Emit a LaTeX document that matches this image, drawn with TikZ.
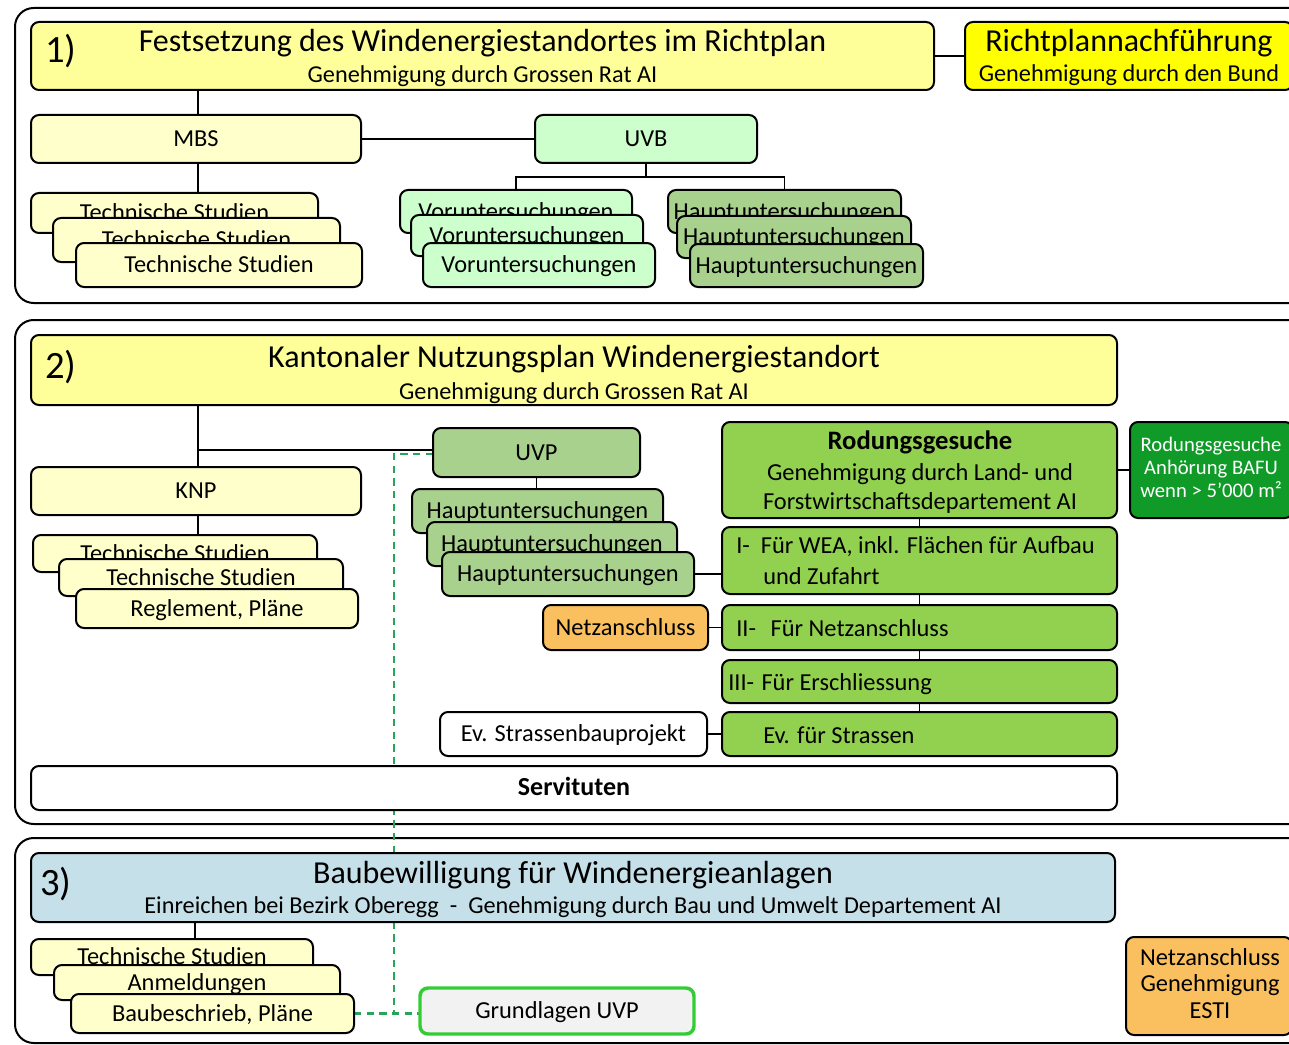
\documentclass[tikz,border=0pt]{standalone}
\usepackage{fontspec}
\setmainfont{Carlito}
\usetikzlibrary{backgrounds}
\definecolor{hdrY}{RGB}{255,255,153}
\definecolor{subY}{RGB}{255,255,204}
\definecolor{richY}{RGB}{255,255,0}
\definecolor{mint}{RGB}{204,255,204}
\definecolor{hgreen}{RGB}{169,209,142}
\definecolor{rgreen}{RGB}{146,208,80}
\definecolor{dgreen}{RGB}{16,155,40}
\definecolor{orng}{RGB}{250,192,96}
\definecolor{lblue}{RGB}{197,224,232}
\definecolor{lgrey}{RGB}{242,242,242}
\definecolor{uvpgreen}{RGB}{51,204,51}
\definecolor{dashgreen}{RGB}{40,165,90}
\newcommand\FTtl{\fontsize{24}{28}\selectfont}
\newcommand\FSub{\fontsize{18.2}{21}\selectfont}
\newcommand\FNum{\fontsize{29}{32}\selectfont}
\newcommand\FBx{\fontsize{18.3}{21}\selectfont}
\newcommand\FSm{\fontsize{15.5}{18}\selectfont}
\newcommand\Bx[7]{\node[#1, minimum width={(#5-#3)*0.75pt}, minimum height={(#6-#4)*0.75pt}] (#2) at ({(#3+#5)/2},{(#4+#6)/2}) {#7};}
\tikzset{
  box/.style={draw=black, line width=1.5pt, rounded corners=6pt, inner sep=0pt, outer sep=0pt, font=\FBx, text height=16pt, text depth=4.7pt},
  wire/.style={draw=black, line width=1.4pt},
  dashw/.style={draw=dashgreen, line width=1.8pt, dash pattern=on 5.5pt off 4pt},
  sect/.style={draw=black, line width=1.5pt, rounded corners=14pt},
  lbl/.style={inner sep=0pt, anchor=base, font=\FBx},
}
\begin{document}
\begin{tikzpicture}[x=0.75pt, y=-0.75pt]
\useasboundingbox (0,0) rectangle (1289,1045);
% ---------- section 1
\Bx{box,fill=hdrY}{T1}{31}{22}{934}{90}{}
\node[lbl, font=\FTtl] (T1t) at (482.5,52) {Festsetzung des Windenergiestandortes im Richtplan};
\node[lbl, font=\FSub] (T1s) at (482.5,83) {Genehmigung durch Grossen Rat AI};
\node[lbl, font=\FNum] (T1n) at (61,63) {1)};
\Bx{box,fill=richY}{R1}{965}{22}{1293}{90}{}
\node[lbl, font=\FTtl] (R1t) at (1129,52) {Richtplannachführung};
\node[lbl, font=\FSub] (R1s) at (1129,82) {Genehmigung durch den Bund};
\Bx{box,fill=subY}{MBS}{31}{115}{361}{163}{MBS}
\Bx{box,fill=mint}{UVB}{535}{115}{757}{163}{UVB}
\Bx{box,fill=subY}{TSa}{31}{193}{318}{233}{Technische Studien}
\Bx{box,fill=subY}{TSb}{53}{218}{340}{262}{Technische Studien}
\Bx{box,fill=subY}{TSc}{76}{243}{362}{287}{Technische Studien}
\Bx{box,fill=mint}{VUa}{400}{190}{632}{233}{Voruntersuchungen}
\Bx{box,fill=mint}{VUb}{411}{215}{643}{256}{Voruntersuchungen}
\Bx{box,fill=mint}{VUc}{423}{243}{655}{287}{Voruntersuchungen}
\Bx{box,fill=hgreen}{HUa}{668}{190}{901}{233}{Hauptuntersuchungen}
\Bx{box,fill=hgreen}{HUb}{677}{216}{911}{258}{Hauptuntersuchungen}
\Bx{box,fill=hgreen}{HUc}{690}{244}{923}{287}{Hauptuntersuchungen}
% ---------- section 2
\Bx{box,fill=hdrY}{T2}{31}{335}{1117}{405}{}
\node[lbl, font=\FTtl] (T2t) at (574,367) {Kantonaler Nutzungsplan Windenergiestandort};
\node[lbl, font=\FSub] (T2s) at (574,399) {Genehmigung durch Grossen Rat AI};
\node[lbl, font=\FNum] (T2n) at (61,378) {2)};
\Bx{box,fill=subY}{KNP}{31}{467}{361}{515}{KNP}
\Bx{box,fill=subY}{KSa}{33}{535}{317}{572}{Technische Studien}
\Bx{box,fill=subY}{KSb}{59}{559}{343}{596}{Technische Studien}
\Bx{box,fill=subY}{KSc}{76}{589}{358}{628}{Reglement, Pläne}
\Bx{box,fill=hgreen}{UVP}{433}{428}{640}{477}{UVP}
\Bx{box,fill=hgreen}{HVa}{412}{489}{663}{533}{Hauptuntersuchungen}
\Bx{box,fill=hgreen}{HVb}{427}{522}{677}{566}{Hauptuntersuchungen}
\Bx{box,fill=hgreen}{HVc}{442}{552}{694}{596}{Hauptuntersuchungen}
\Bx{box,fill=orng}{Netz}{543}{605}{708}{650}{Netzanschluss}
\Bx{box,fill=rgreen}{Rod}{722}{422}{1117}{518}{}
\node[lbl, font=\fontsize{20}{23}\selectfont\bfseries] (Rodt1) at (920,449) {Rodungsgesuche};
\node[lbl] (Rodt2) at (920,480) {Genehmigung durch Land- und};
\node[lbl] (Rodt3) at (920,509) {Forstwirtschaftsdepartement AI};
\Bx{box,fill=dgreen}{BAFU}{1130}{422}{1293}{518}{}
\node[lbl, font=\FSm, text=white] (BAt1) at (1211,451) {Rodungsgesuche};
\node[lbl, font=\FSm, text=white] (BAt2) at (1211,474) {Anhörung BAFU};
\node[lbl, font=\FSm, text=white] (BAt3) at (1211,497) {wenn > 5’000 m²};
\Bx{box,fill=rgreen}{RI}{722}{527}{1117}{594}{}
\node[lbl, anchor=base west] (RIt1) at (736,553) {I-\hspace{0.45em}Für WEA, inkl. Flächen für Aufbau};
\node[lbl, anchor=base west] (RIt2) at (763,584) {und Zufahrt};
\Bx{box,fill=rgreen}{RII}{722}{605}{1117}{650}{}
\node[lbl, anchor=base west] (RIIt) at (736,636) {II-\hspace{0.6em}Für Netzanschluss};
\Bx{box,fill=rgreen}{RIII}{722}{660}{1117}{703}{}
\node[lbl, anchor=base west] (RIIIt) at (728,690) {III-\hspace{0.3em}Für Erschliessung};
\Bx{box,fill=rgreen}{REv}{722}{712}{1117}{756}{}
\node[lbl, anchor=base west] (REvt) at (763,743) {Ev. für Strassen};
\Bx{box,fill=white}{SB}{440}{712}{707}{756}{Ev. Strassenbauprojekt}
\Bx{box,fill=white,font=\fontsize{19.5}{22}\selectfont\bfseries}{Serv}{31}{766}{1117}{810}{Servituten}
% ---------- section 3
\Bx{box,fill=lblue}{T3}{31}{853}{1115}{922}{}
\node[lbl, font=\FTtl] (T3t) at (573,883) {Baubewilligung für Windenergieanlagen};
\node[lbl, font=\FSub] (T3s) at (573,913) {Einreichen bei Bezirk Oberegg\ \ -\ \ Genehmigung durch Bau und Umwelt Departement AI};
\node[lbl, font=\FNum] (T3n) at (56,895) {3)};
\Bx{box,fill=subY}{BSa}{31}{939}{313}{975}{Technische Studien}
\Bx{box,fill=subY}{BSb}{54}{965}{340}{1000}{Anmeldungen}
\Bx{box,fill=subY}{BSc}{71}{994}{354}{1033}{Baubeschrieb, Pläne}
\Bx{box,fill=lgrey,draw=uvpgreen,line width=2.6pt}{GUVP}{420}{988}{694}{1034}{Grundlagen UVP}
\Bx{box,fill=orng}{ESTI}{1126}{937}{1292}{1035}{}
\node[lbl] (ESt1) at (1210,965) {Netzanschluss};
\node[lbl] (ESt2) at (1210,991) {Genehmigung};
\node[lbl] (ESt3) at (1210,1018) {ESTI};
% ---------- connectors
\coordinate (c1) at (198,0);
\coordinate (c3) at (195,0);
\draw[wire] (T1.east) -- (R1.west);
\draw[wire] (c1 |- T1.south) -- (c1 |- MBS.north);
\draw[wire] (MBS.east) -- (UVB.west);
\draw[wire] (c1 |- MBS.south) -- (c1 |- TSa.north);
\draw[wire] (UVB.south) -- ++(0,14) coordinate (ub);
\draw[wire] (VUa.north) |- (ub) -| (HUa.north);
\draw[wire] (c1 |- T2.south) -- (c1 |- KNP.north);
\coordinate (uwb) at ([yshift=2pt]UVP.west);
\draw[wire] (uwb) -- (uwb -| c1);
\draw[wire] (c1 |- KNP.south) -- (c1 |- KSa.north);
\draw[wire] (UVP.south) -- (UVP.south |- HVa.north);
\draw[wire] (HVc.east) -- (HVc.east -| RI.west);
\draw[wire] (Rod.south) -- (RI.north);
\draw[wire] (RI.south) -- (RII.north);
\draw[wire] (RII.south) -- (RIII.north);
\draw[wire] (RIII.south) -- (REv.north);
\draw[wire] (Rod.east) -- (BAFU.west);
\draw[wire] (Netz.east) -- (RII.west);
\draw[wire] (SB.east) -- (REv.west);
\draw[wire] (c3 |- T3.south) -- (c3 |- BSa.north);
% ---------- background: sections and dashed link
\begin{scope}[on background layer]
\draw[sect] (15,8) rectangle (1320,303);
\draw[sect] (15,320) rectangle (1320,824);
\draw[sect] (15,838) rectangle (1320,1043);
\coordinate (dc) at (394,452);
\coordinate (uwd) at ([yshift=-1pt]UVP.west);
\draw[dashw] (uwd) -- (dc |- uwd) -- (dc |- BSc.east);
\draw[dashw] (BSc.east) -- (BSc.east -| GUVP.west);
\end{scope}
\end{tikzpicture}
\end{document}
